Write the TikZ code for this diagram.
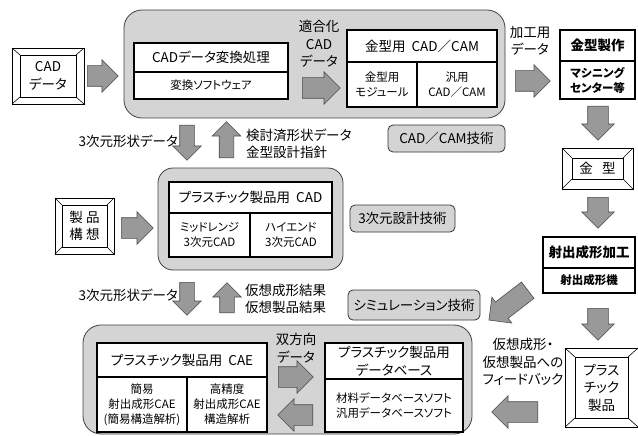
\documentclass[tikz,border=0pt]{standalone}
\usepackage{fontspec}
\setmainfont{Noto Sans CJK JP}[RawFeature=+palt]
\usetikzlibrary{shapes.arrows,positioning}

\newcommand{\txtbig}{\fontsize{13.5}{17.5}\selectfont}
\newcommand{\txtsmall}{\fontsize{11.5}{15}\selectfont}
% outer frame of a bevelled box
\newcommand{\bevelframe}[3]{%
  \draw[line width=0.8pt] ([shift={(-#2,-#3)}]#1.north west) rectangle ([shift={(#2,#3)}]#1.south east);
  \draw[line width=0.6pt] (#1.north west) -- ([shift={(-#2,-#3)}]#1.north west)
    (#1.north east) -- ([shift={(#2,-#3)}]#1.north east)
    (#1.south west) -- ([shift={(-#2,#3)}]#1.south west)
    (#1.south east) -- ([shift={(#2,#3)}]#1.south east);}

\begin{document}
\begin{tikzpicture}[x=1pt, y=-1pt,
    grp/.style={draw=black!75, fill=black!17, line width=0.8pt, rounded corners=18pt},
    cell/.style={draw, fill=white, line width=1.3pt, inner sep=0pt, outer sep=0pt, align=center, font=\txtsmall},
    hdcell/.style={cell, font=\txtbig},
    tech/.style={draw=black!80, fill=black!17, line width=0.8pt, rounded corners=5pt, inner sep=0pt, font=\txtbig},
    bevel/.style={draw, fill=white, line width=0.9pt, inner sep=0pt, outer sep=0pt, align=center, font=\txtbig},
    note/.style={align=center, font=\txtbig, inner sep=0pt},
    barrow/.style={single arrow, draw=black!70, fill=black!40, line width=0.6pt, inner xsep=0pt, inner ysep=10pt,
      single arrow head extend=6pt, single arrow head indent=0pt, anchor=tail},
    vbar/.style={barrow, inner ysep=7pt, single arrow head extend=7pt}]
    \useasboundingbox (0,0) rectangle (638,436);

    % Groups
    \node (topgrp) [grp, minimum width=381, minimum height=108] at (314.5,64) {};
    \node (midgrp) [grp, rounded corners=15pt, minimum width=185, minimum height=102] at (250.5,219) {};
    \node (botgrp) [grp, minimum width=389, minimum height=109] at (277.5,379.5) {};

    % Top row
    \node (caddata) [bevel, minimum width=56, minimum height=42] at (48,76) {CAD\\データ};
    \bevelframe{caddata}{8}{7}
    \node (conv) [hdcell, minimum width=154, minimum height=29] at (211,57.5) {CADデータ変換処理};
    \node (convsw) [cell, minimum width=154, minimum height=27, below=0pt of conv] {変換ソフトウェア};
    \node (cam) [hdcell, minimum width=150, minimum height=32] at (422,46) {金型用\ \ CAD／CAM};
    \node (cammod) [cell, minimum width=70, minimum height=45, below right=0pt of cam.south west] {金型用\\モジュール};
    \node (camgen) [cell, minimum width=80, minimum height=45, right=0pt of cammod] {汎用\\CAD／CAM};
    \node (moldmk) [hdcell, font=\txtbig\bfseries, minimum width=75, minimum height=31] at (597.5,45.5) {金型製作};
    \node (mc) [cell, font=\txtsmall\bfseries, minimum width=75, minimum height=38, below=0pt of moldmk] {マシニング\\センター等};
    \node (camtech) [tech, minimum width=117, minimum height=27] at (446.5,138.5) {CAD／CAM技術};

    % Middle row
    \node (concept) [bevel, minimum width=45, minimum height=42] at (84.5,226) {製\ 品\\構\ 想};
    \bevelframe{concept}{7}{7}
    \node (pcad) [hdcell, minimum width=163, minimum height=31] at (250.5,197.5) {プラスチック製品用\ \ CAD};
    \node (midcad) [cell, minimum width=81, minimum height=44, below right=0pt of pcad.south west] {ミッドレンジ\\3次元CAD};
    \node (hicad) [cell, minimum width=82, minimum height=44, right=0pt of midcad] {ハイエンド\\3次元CAD};
    \node (destech) [tech, minimum width=105, minimum height=27] at (402.5,218.5) {3次元設計技術};
    \node (mold) [bevel, minimum width=51, minimum height=21] at (597.5,168.5) {金\hspace{0.7em}型};
    \bevelframe{mold}{10}{10}
    \node (inj) [hdcell, font=\txtbig\bfseries, minimum width=92, minimum height=31] at (589,252.5) {射出成形加工};
    \node (injm) [cell, font=\txtsmall\bfseries, minimum width=92, minimum height=25, below=0pt of inj] {射出成形機};

    % Bottom row
    \node (pcae) [hdcell, minimum width=170, minimum height=34] at (182,360) {プラスチック製品用\ \ CAE};
    \node (easycae) [cell, minimum width=90, minimum height=55, below right=0pt of pcae.south west] {簡易\\射出成形CAE\\(簡易構造解析)};
    \node (hicae) [cell, minimum width=80, minimum height=55, right=0pt of easycae] {高精度\\射出成形CAE\\構造解析};
    \node (pdb) [hdcell, minimum width=138, minimum height=36] at (394,361) {プラスチック製品用\\データベース};
    \node (dbsw) [cell, minimum width=138, minimum height=53, below=0pt of pdb] {材料データベースソフト\\汎用データベースソフト};
    \node (simtech) [tech, minimum width=132, minimum height=30] at (414,305) {シミュレーション技術};
    \node (product) [bevel, minimum width=53, minimum height=61] at (601.5,387.5) {プラス\\チック\\製品};
    \bevelframe{product}{10}{9}

    % Block arrows
    \node (a1) [barrow, minimum height=31] at (87,76) {};
    \node (a2) [barrow, minimum height=38] at (302,88) {};
    \node (a3) [barrow, minimum height=35] at (515,81) {};
    \node (a4) [barrow, minimum height=34, rotate=-90] at (598,106) {};
    \node (a5) [barrow, minimum height=31, rotate=-90] at (598,197) {};
    \node (a6) [barrow, minimum height=32, rotate=-90] at (598,308) {};
    \node (a7) [barrow, minimum height=49, rotate=217.6] at (528,290) {};
    \node (a8) [barrow, minimum height=46, rotate=180] at (538,412) {};
    \node (a9) [barrow, minimum height=35] at (278,377) {};
    \node (a10) [barrow, minimum height=35, rotate=180] at (313,415) {};
    \node (a11) [barrow, minimum height=32] at (121,228) {};
    \node (v1) [vbar, minimum height=35, rotate=-90] at (187,125) {};
    \node (v2) [vbar, minimum height=36, rotate=90] at (226.5,158) {};
    \node (v3) [vbar, minimum height=33, rotate=-90] at (187,282) {};
    \node (v4) [vbar, minimum height=30, rotate=90] at (227,313) {};

    % Labels
    \node (n1) [note, anchor=east] at (178,141) {3次元形状データ};
    \node (n2) [note, anchor=west, align=left] at (246,144) {検討済形状データ\\金型設計指針};
    \node (n3) [note, anchor=east] at (178,295) {3次元形状データ};
    \node (n4) [note, anchor=west, align=left] at (245,299) {仮想成形結果\\仮想製品結果};
    \node (n5) [note] at (319,44) {適合化\\CAD\\データ};
    \node (n6) [note] at (530,41) {加工用\\データ};
    \node (n7) [note] at (523,362) {仮想成形・\\仮想製品への\\フィードバック};
    \node (n8) [note] at (296,348) {双方向\\データ};
\end{tikzpicture}
\end{document}
